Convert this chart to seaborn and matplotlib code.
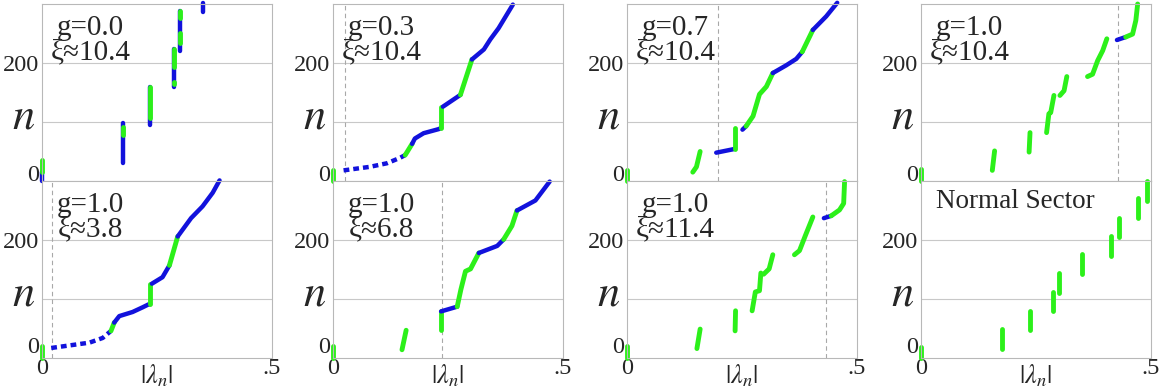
import pandas as pd
import matplotlib
matplotlib.use("Agg")
import matplotlib.pyplot as plt
import seaborn as sns

# colours of the two kinds of eigenvalue
BLUE = "#1212dc"
GREEN = "#2cf01a"

# panel labels, row by row
panel_labels = ["g=0.0\nξ≈10.4", "g=0.3\nξ≈10.4", "g=0.7\nξ≈10.4", "g=1.0\nξ≈10.4",
                "g=1.0\nξ≈3.8", "g=1.0\nξ≈6.8", "g=1.0\nξ≈11.4", "Normal Sector"]

# position of the dashed marker line in each panel (None = no line)
xi_marks = [None, 0.026, 0.198, 0.428, 0.022, 0.237, 0.433, None]

# spectra: (kind, |lambda_n| points, n points); g = green, b = blue, d = dotted blue
spec_g00_xi104 = [
    ("b", [0, 0], [0, 15]), ("g", [0, 0], [15, 35]),
    ("b", [0.175, 0.175], [31, 98]), ("g", [0.175, 0.175], [78, 92]),
    ("b", [0.235, 0.235], [95, 160]), ("g", [0.235, 0.235], [106, 160]),
    ("b", [0.287, 0.287], [159, 224]), ("g", [0.287, 0.287], [194, 224]),
    ("g", [0.287, 0.287], [165, 168]),
    ("b", [0.299, 0.299], [221, 288]), ("g", [0.299, 0.299], [234, 251]),
    ("g", [0.299, 0.299], [276, 288]),
    ("b", [0.349, 0.349], [287, 302]),
]
spec_g03_xi104 = [
    ("g", [0, 0], [0, 19]),
    ("d", [0.023, 0.08, 0.117, 0.145, 0.157], [18, 24, 30, 39, 44]),
    ("g", [0.157, 0.172], [44, 63]),
    ("b", [0.172, 0.178, 0.197, 0.230, 0.235], [63, 72, 81, 88, 90]),
    ("g", [0.235, 0.235], [90, 126]),
    ("b", [0.239, 0.277], [126, 146]),
    ("g", [0.277, 0.302], [146, 206]),
    ("b", [0.302, 0.328, 0.342, 0.360, 0.391], [206, 223, 240, 259, 299]),
]
spec_g07_xi104 = [
    ("g", [0, 0], [0, 19]),
    ("g", [0.143, 0.151, 0.159], [15, 24, 50]),
    ("b", [0.194, 0.232], [48, 54]),
    ("g", [0.234, 0.234], [54, 90]),
    ("b", [0.251, 0.259], [87, 93]),
    ("g", [0.259, 0.274, 0.288, 0.303, 0.317], [93, 110, 147, 160, 183]),
    ("b", [0.317, 0.346, 0.368, 0.381], [183, 196, 207, 219]),
    ("g", [0.381, 0.404], [219, 256]),
    ("b", [0.404, 0.433, 0.457], [256, 279, 302]),
]
spec_g10_xi104 = [
    ("g", [0, 0], [0, 20]),
    ("g", [0.155, 0.160], [18, 51]),
    ("g", [0.235, 0.237], [49, 82]),
    ("g", [0.273, 0.278, 0.282, 0.289], [82, 114, 116, 145]),
    ("g", [0.302, 0.311, 0.317], [145, 153, 177]),
    ("g", [0.362, 0.373, 0.384, 0.395, 0.404], [177, 181, 204, 221, 241]),
    ("b", [0.426, 0.445], [239, 244]),
    ("g", [0.445, 0.460, 0.467, 0.471], [244, 249, 272, 300]),
]
spec_g10_xi38 = [
    ("g", [0, 0], [0, 20]),
    ("d", [0.020, 0.103, 0.132, 0.150], [17, 26, 34, 46]),
    ("g", [0.150, 0.157], [46, 60]),
    ("b", [0.157, 0.168, 0.197, 0.219, 0.232, 0.235], [60, 71, 78, 86, 91, 91]),
    ("g", [0.235, 0.235], [91, 126]),
    ("b", [0.239, 0.262, 0.277], [126, 137, 157]),
    ("g", [0.277, 0.295], [157, 206]),
    ("b", [0.295, 0.324, 0.349, 0.371, 0.386], [206, 237, 257, 280, 301]),
]
spec_g10_xi68 = [
    ("g", [0, 0], [0, 20]),
    ("g", [0.150, 0.159], [14, 47]),
    ("g", [0.235, 0.235], [47, 79]),
    ("b", [0.235, 0.270], [79, 87]),
    ("g", [0.270, 0.278, 0.288, 0.299, 0.317], [87, 116, 147, 151, 178]),
    ("b", [0.317, 0.357, 0.371], [178, 190, 201]),
    ("g", [0.371, 0.389, 0.400], [201, 224, 250]),
    ("b", [0.400, 0.440, 0.471], [250, 267, 299]),
]
spec_g10_xi114 = [
    ("g", [0, 0], [0, 20]),
    ("g", [0.152, 0.159], [16, 49]),
    ("g", [0.235, 0.236], [46, 80]),
    ("g", [0.272, 0.279, 0.288, 0.291], [80, 112, 114, 144]),
    ("g", [0.297, 0.309, 0.317], [142, 151, 175]),
    ("g", [0.364, 0.375, 0.388, 0.404], [175, 182, 208, 239]),
    ("b", [0.428, 0.444], [237, 241]),
    ("g", [0.444, 0.462, 0.471, 0.473], [241, 251, 262, 299]),
]
# normal sector: vertical bars
normal_lam = [0, 0.177, 0.236, 0.288, 0.300, 0.350, 0.414, 0.431, 0.472, 0.491]
normal_lo = [0, 16, 48, 79, 110, 142, 173, 205, 237, 266]
normal_hi = [18, 49, 80, 112, 144, 176, 207, 238, 271, 300]
spec_normal = [("g", [l, l], [a, b]) for l, a, b in zip(normal_lam, normal_lo, normal_hi)]

spectra = [spec_g00_xi104, spec_g03_xi104, spec_g07_xi104, spec_g10_xi104,
           spec_g10_xi38, spec_g10_xi68, spec_g10_xi114, spec_normal]


def draw_segments(ax, segs):
    for kind, lam, n in segs:
        df = pd.DataFrame({"lam": lam, "n": n})
        if kind == "g":
            style = dict(color=GREEN, lw=3.5, solid_capstyle="round")
        elif kind == "b":
            style = dict(color=BLUE, lw=3.2, solid_capstyle="round")
        else:
            style = dict(color=BLUE, lw=3.2, linestyle=(0, (1.3, 0.9)))
        sns.lineplot(data=df, x="lam", y="n", sort=False, estimator=None,
                     ax=ax, clip_on=False, **style)


sns.set_style("white")
plt.rcParams["font.family"] = ["Liberation Serif", "DejaVu Serif"]
plt.rcParams["mathtext.fontset"] = "stix"

W, H = 1163, 392
fig = plt.figure(figsize=(W / 100, H / 100), dpi=100)

col_left = [42, 333, 627, 921]
row_top = [4, 181]
ax_w, ax_h = 230, 177

for i in range(8):
    r, c = divmod(i, 4)
    ax = fig.add_axes([col_left[c] / W, 1 - (row_top[r] + ax_h) / H, ax_w / W, ax_h / H])
    ax.set_facecolor("white")

    # horizontal grid lines
    for yv in [100, 200]:
        ax.axhline(yv, color="#c8c8c8", lw=0.8, zorder=0)
    if xi_marks[i] is not None:
        ax.axvline(xi_marks[i], color="#a8a8a8", lw=0.8, ls=(0, (4, 3)), zorder=0)

    draw_segments(ax, spectra[i])

    ax.set_xlim(0, 0.5)
    ax.set_ylim(0, 300)
    ax.set(xlabel="", ylabel="")
    ax.set_yticks([0, 200])
    ylabs = ax.set_yticklabels(["0", "200"], fontsize=17.5)
    ylabs[0].set_verticalalignment("bottom" if r == 1 else "baseline")
    ax.set_xticks([0, 0.5])
    if r == 1:
        ax.set_xticklabels(["0", ".5"], fontsize=17.5)
        ax.text(0.5, -0.025, r"$|\lambda_n|$", transform=ax.transAxes,
                ha="center", va="top", fontsize=19)
    else:
        ax.set_xticklabels([])
    ax.tick_params(axis="y", length=0, pad=2)
    ax.tick_params(axis="x", length=0, pad=0)
    for s in ax.spines.values():
        s.set_color("#b8b8b8")
        s.set_linewidth(0.8)

    ax.text(-0.08, 0.36, r"$n$", transform=ax.transAxes, ha="center",
            va="center", fontsize=32)

    if i == 7:
        ax.text(0.41, 0.885, panel_labels[i], transform=ax.transAxes,
                ha="center", va="center", fontsize=19.5)
    else:
        ax.text(0.21, 0.795, panel_labels[i], transform=ax.transAxes,
                ha="center", va="center", fontsize=21, linespacing=0.95,
                multialignment="center")

fig.savefig("out.png", dpi=100)
